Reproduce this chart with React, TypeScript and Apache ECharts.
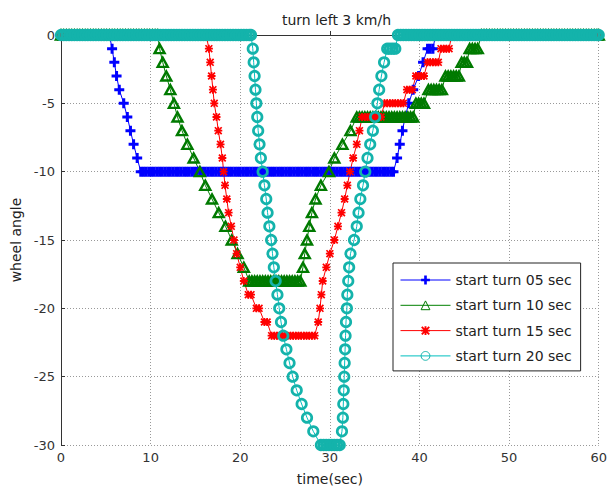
import React, { useEffect, useRef } from 'react';
import * as echarts from 'echarts';

const chartTitle = 'turn left 3 km/h';
const xAxisName = 'time(sec)';
const yAxisName = 'wheel angle';
const seriesNames = ['start turn 05 sec', 'start turn 10 sec', 'start turn 15 sec', 'start turn 20 sec'];

// [time (s), wheel angle (deg)]
const turn05: [number, number][] = [
  [0, 0], [1, 0], [2, 0], [3, 0], [4, 0], [5, 0], [5.4, 0],
  [5.7, -1], [5.95, -2], [6.2, -3], [6.5, -4], [7.0, -5], [7.4, -6], [7.75, -7], [8.1, -8], [8.5, -9],
  [8.9, -10], [9.2, -10], [9.5, -10], [9.8, -10], [10.1, -10], [10.4, -10], [10.7, -10], [11.0, -10], [11.3, -10], [11.6, -10],
  [11.9, -10], [12.2, -10], [12.5, -10], [12.8, -10], [13.1, -10], [13.4, -10], [13.7, -10], [14.0, -10], [14.3, -10], [14.6, -10],
  [14.9, -10], [15.2, -10], [15.5, -10], [15.8, -10], [16.1, -10], [16.4, -10], [16.7, -10], [17.0, -10], [17.3, -10], [17.6, -10],
  [17.9, -10], [18.2, -10], [18.5, -10], [18.8, -10], [19.1, -10], [19.4, -10], [19.7, -10], [20.0, -10], [20.3, -10], [20.6, -10],
  [20.9, -10], [21.2, -10], [21.5, -10], [21.8, -10], [22.1, -10], [22.4, -10], [22.7, -10], [23.0, -10], [23.3, -10], [23.6, -10],
  [23.9, -10], [24.2, -10], [24.5, -10], [24.8, -10], [25.1, -10], [25.4, -10], [25.7, -10], [26.0, -10], [26.3, -10], [26.6, -10],
  [26.9, -10], [27.2, -10], [27.5, -10], [27.8, -10], [28.1, -10], [28.4, -10], [28.7, -10], [29.0, -10], [29.3, -10], [29.6, -10],
  [29.9, -10], [30.2, -10], [30.5, -10], [30.8, -10], [31.1, -10], [31.4, -10], [31.7, -10], [32.0, -10], [32.3, -10], [32.6, -10],
  [32.9, -10], [33.2, -10], [33.5, -10], [33.8, -10], [34.1, -10], [34.4, -10], [34.7, -10], [35.0, -10], [35.3, -10], [35.6, -10],
  [35.9, -10], [36.2, -10], [36.5, -10], [36.8, -10], [37.1, -10],
  [37.5, -9], [37.8, -8], [38.1, -7], [38.4, -6], [38.8, -5], [39.3, -4], [39.9, -3], [40.4, -2],
  [40.9, -1], [41.2, -1], [41.5, -1], [41.8, 0],
  [43, 0], [44, 0], [45, 0], [46, 0], [47, 0], [48, 0], [49, 0], [50, 0], [51, 0], [52, 0], [53, 0], [54, 0], [55, 0],
  [56, 0], [57, 0], [58, 0], [59, 0], [60, 0],
];

const turn10: [number, number][] = [
  [0, 0], [0.3, 0], [0.6, 0], [0.9, 0], [1.2, 0], [1.5, 0], [1.8, 0], [2.1, 0], [2.4, 0], [2.7, 0], [3.0, 0], [3.3, 0],
  [3.6, 0], [3.9, 0], [4.2, 0], [4.5, 0], [4.8, 0], [5.1, 0], [5.4, 0], [5.7, 0], [6.0, 0], [6.3, 0], [6.6, 0], [6.9, 0],
  [7.2, 0], [7.5, 0], [7.8, 0], [8.1, 0], [8.4, 0], [8.7, 0], [9.0, 0], [9.3, 0], [9.6, 0], [9.9, 0], [10.2, 0], [10.5, 0], [10.8, 0],
  [11.0, -1], [11.35, -2], [11.75, -3], [12.2, -4], [12.6, -5], [13.0, -6], [13.5, -7], [14.1, -8], [14.8, -9], [15.5, -10],
  [16.1, -11], [16.85, -12], [17.6, -13], [18.35, -14], [19.05, -15], [19.7, -16], [20.4, -17],
  [21.0, -18], [21.3, -18], [21.6, -18], [21.9, -18], [22.2, -18], [22.5, -18], [22.8, -18], [23.1, -18], [23.4, -18], [23.7, -18],
  [24.0, -18], [24.3, -18], [24.6, -18], [24.9, -18], [25.2, -18], [25.5, -18], [25.8, -18], [26.1, -18], [26.4, -18], [26.7, -18],
  [27.0, -17], [27.2, -16], [27.45, -15], [27.7, -14], [28.0, -13], [28.4, -12], [29.0, -11], [29.9, -10], [30.5, -9], [31.4, -8], [32.3, -7],
  [33.0, -6], [33.3, -6], [33.6, -6], [33.9, -6], [34.2, -6], [34.5, -6], [34.8, -6], [35.1, -6], [35.4, -6], [35.7, -6], [36.0, -6],
  [36.3, -6], [36.6, -6], [36.9, -6], [37.2, -6], [37.5, -6], [37.8, -6], [38.1, -6], [38.4, -6], [38.7, -6], [39.0, -6], [39.3, -6],
  [39.6, -5], [39.9, -5], [40.2, -5], [40.5, -5],
  [41.0, -4], [41.3, -4], [41.6, -4], [41.9, -4], [42.2, -4], [42.5, -4],
  [42.9, -3], [43.2, -3], [43.5, -3], [43.8, -3], [44.1, -3], [44.4, -3],
  [44.7, -2], [45.0, -2], [45.3, -2],
  [45.6, -1], [45.9, -1], [46.2, -1], [46.5, -1],
  [46.9, 0], [47.2, 0], [47.5, 0], [47.8, 0], [48.1, 0], [48.4, 0], [48.7, 0], [49.0, 0], [49.3, 0], [49.6, 0], [49.9, 0],
  [50.2, 0], [50.5, 0], [50.8, 0], [51.1, 0], [51.4, 0], [51.7, 0], [52.0, 0], [52.3, 0], [52.6, 0], [52.9, 0], [53.2, 0],
  [53.5, 0], [53.8, 0], [54.1, 0], [54.4, 0], [54.7, 0], [55.0, 0], [55.3, 0], [55.6, 0], [55.9, 0], [56.2, 0], [56.5, 0],
  [56.8, 0], [57.1, 0], [57.4, 0], [57.7, 0], [58.0, 0], [58.3, 0], [58.6, 0], [58.9, 0], [59.2, 0], [59.5, 0], [59.8, 0], [60.0, 0],
];

const turn15: [number, number][] = [
  [0, 0], [1, 0], [2, 0], [3, 0], [4, 0], [5, 0], [6, 0], [7, 0], [8, 0], [9, 0], [10, 0], [11, 0], [12, 0], [13, 0],
  [14, 0], [15, 0], [16, 0], [16.2, 0],
  [16.5, -1], [16.65, -2], [16.8, -3], [16.95, -4], [17.1, -5], [17.35, -6], [17.55, -7], [17.8, -8], [18.0, -9],
  [18.15, -10], [18.3, -11], [18.5, -12], [18.7, -13], [19.0, -14], [19.3, -15], [19.6, -16], [20.0, -17], [20.4, -18],
  [20.9, -19], [21.2, -19], [21.8, -20], [22.1, -20], [22.7, -21], [23.0, -21],
  [23.5, -22], [23.8, -22], [24.1, -22], [24.4, -22], [24.7, -22], [25.0, -22], [25.3, -22], [25.6, -22], [25.9, -22],
  [26.2, -22], [26.5, -22], [26.8, -22], [27.1, -22], [27.4, -22], [27.7, -22], [28.0, -22], [28.3, -22],
  [28.7, -21], [28.9, -20], [29.05, -19], [29.2, -18], [29.6, -17], [30.0, -16], [30.5, -15], [30.9, -14], [31.3, -13],
  [31.65, -12], [31.95, -11], [32.25, -10], [32.6, -9], [33.0, -8], [33.3, -7],
  [33.6, -6], [33.9, -6], [34.2, -6], [34.5, -6], [34.8, -6], [35.1, -6], [35.4, -6], [35.7, -6],
  [36.1, -5], [36.4, -5], [36.7, -5], [37.0, -5], [37.3, -5], [37.6, -5], [37.9, -5], [38.2, -5],
  [38.6, -4], [38.9, -4], [39.2, -4],
  [39.6, -3], [39.9, -3], [40.2, -3], [40.5, -3],
  [40.9, -2], [41.2, -2], [41.5, -2], [41.8, -2], [42.1, -2],
  [42.4, -1], [42.7, -1], [43.0, -1], [43.3, -1],
  [43.6, 0], [45, 0], [46, 0], [47, 0], [48, 0], [49, 0], [50, 0], [51, 0], [52, 0], [53, 0], [54, 0], [55, 0],
  [56, 0], [57, 0], [58, 0], [59, 0], [60, 0],
];

const turn20: [number, number][] = [
  [0, 0], [0.3, 0], [0.6, 0], [0.9, 0], [1.2, 0], [1.5, 0], [1.8, 0], [2.1, 0], [2.4, 0], [2.7, 0], [3.0, 0], [3.3, 0],
  [3.6, 0], [3.9, 0], [4.2, 0], [4.5, 0], [4.8, 0], [5.1, 0], [5.4, 0], [5.7, 0], [6.0, 0], [6.3, 0], [6.6, 0], [6.9, 0],
  [7.2, 0], [7.5, 0], [7.8, 0], [8.1, 0], [8.4, 0], [8.7, 0], [9.0, 0], [9.3, 0], [9.6, 0], [9.9, 0], [10.2, 0], [10.5, 0],
  [10.8, 0], [11.1, 0], [11.4, 0], [11.7, 0], [12.0, 0], [12.3, 0], [12.6, 0], [12.9, 0], [13.2, 0], [13.5, 0], [13.8, 0],
  [14.1, 0], [14.4, 0], [14.7, 0], [15.0, 0], [15.3, 0], [15.6, 0], [15.9, 0], [16.2, 0], [16.5, 0], [16.8, 0], [17.1, 0],
  [17.4, 0], [17.7, 0], [18.0, 0], [18.3, 0], [18.6, 0], [18.9, 0], [19.2, 0], [19.5, 0], [19.8, 0], [20.1, 0], [20.4, 0],
  [20.7, 0], [21.0, 0], [21.2, 0],
  [21.4, -1], [21.5, -2], [21.6, -3], [21.7, -4], [21.8, -5], [21.9, -6], [22.0, -7], [22.15, -8], [22.3, -9], [22.5, -10],
  [22.7, -11], [22.9, -12], [23.05, -13], [23.25, -14], [23.45, -15], [23.6, -16], [23.75, -17], [23.95, -18], [24.15, -19],
  [24.35, -20], [24.55, -21], [24.8, -22], [25.15, -23], [25.5, -24], [25.85, -25], [26.3, -26], [26.85, -27], [27.45, -28], [28.15, -29],
  [29.0, -30], [29.3, -30], [29.6, -30], [29.9, -30], [30.2, -30], [30.5, -30], [30.8, -30], [31.1, -30],
  [31.35, -29], [31.45, -28], [31.5, -27], [31.55, -26], [31.6, -25], [31.65, -24], [31.7, -23], [31.75, -22], [31.8, -21],
  [31.9, -20], [31.95, -19], [32.05, -18], [32.15, -17], [32.3, -16], [32.7, -15], [33.0, -14], [33.2, -13], [33.4, -12],
  [33.7, -11], [33.95, -10], [34.2, -9], [34.5, -8], [34.8, -7], [35.05, -6], [35.3, -5], [35.5, -4], [35.75, -3], [36.05, -2],
  [36.4, -1], [36.7, -1], [37.0, -1], [37.3, -1],
  [37.6, 0], [37.9, 0], [38.2, 0], [38.5, 0], [38.8, 0], [39.1, 0], [39.4, 0], [39.7, 0], [40.0, 0], [40.3, 0], [40.6, 0],
  [40.9, 0], [41.2, 0], [41.5, 0], [41.8, 0], [42.1, 0], [42.4, 0], [42.7, 0], [43.0, 0], [43.3, 0], [43.6, 0], [43.9, 0],
  [44.2, 0], [44.5, 0], [44.8, 0], [45.1, 0], [45.4, 0], [45.7, 0], [46.0, 0], [46.3, 0], [46.6, 0], [46.9, 0], [47.2, 0],
  [47.5, 0], [47.8, 0], [48.1, 0], [48.4, 0], [48.7, 0], [49.0, 0], [49.3, 0], [49.6, 0], [49.9, 0], [50.2, 0], [50.5, 0],
  [50.8, 0], [51.1, 0], [51.4, 0], [51.7, 0], [52.0, 0], [52.3, 0], [52.6, 0], [52.9, 0], [53.2, 0], [53.5, 0], [53.8, 0],
  [54.1, 0], [54.4, 0], [54.7, 0], [55.0, 0], [55.3, 0], [55.6, 0], [55.9, 0], [56.2, 0], [56.5, 0], [56.8, 0], [57.1, 0],
  [57.4, 0], [57.7, 0], [58.0, 0], [58.3, 0], [58.6, 0], [58.9, 0], [59.2, 0], [59.5, 0], [59.8, 0], [60.0, 0],
];

const FONT = 'DejaVu Sans';
const PLUS = 'path://M3.5,0H6.5V3.5H10V6.5H6.5V10H3.5V6.5H0V3.5H3.5Z';
const STAR = 'path://M3.9,0H6.1V10H3.9Z M0,3.9H10V6.1H0Z M0,1.5L1.5,0L10,8.5L8.5,10Z M8.5,0L10,1.5L1.5,10L0,8.5Z';

export default function App() {
  const ref = useRef<HTMLDivElement>(null);
  useEffect(() => {
    if (!ref.current) return;
    const chart = echarts.init(ref.current, undefined, { renderer: 'svg' });
    const common = { type: 'line', clip: false, silent: true, emphasis: { disabled: true }, showAllSymbol: true };
    chart.setOption({
      animation: false,
      backgroundColor: '#ffffff',
      title: {
        text: chartTitle,
        left: 277,
        top: 8,
        textStyle: { fontFamily: FONT, fontSize: 14, fontWeight: 'normal', color: '#222' },
      },
      grid: { left: 61, top: 35, width: 542, height: 411 },
      legend: {
        orient: 'vertical',
        left: 393,
        top: 263,
        itemWidth: 50,
        itemHeight: 11,
        itemGap: 11.3,
        padding: [10, 9, 8, 7],
        borderColor: '#222',
        borderWidth: 1,
        backgroundColor: '#fff',
        selectedMode: false,
        lineStyle: { width: 1 },
        itemStyle: { borderWidth: 1 },
        textStyle: { fontFamily: FONT, fontSize: 14, color: '#222' },
        data: seriesNames,
      },
      xAxis: {
        type: 'value',
        min: 0,
        max: 60,
        interval: 10,
        name: xAxisName,
        nameLocation: 'middle',
        nameGap: 27,
        nameTextStyle: { fontFamily: FONT, fontSize: 14, color: '#222' },
        axisLine: { show: true, lineStyle: { color: '#333', width: 1 } },
        axisTick: { show: true, inside: true, length: 4, lineStyle: { color: '#333' } },
        axisLabel: { margin: 6, fontFamily: FONT, fontSize: 13, color: '#333' },
        splitLine: { show: true, lineStyle: { color: '#999', type: [1, 2], width: 1 } },
      },
      yAxis: {
        type: 'value',
        min: -30,
        max: 0,
        interval: 5,
        name: yAxisName,
        nameLocation: 'middle',
        nameGap: 38,
        nameTextStyle: { fontFamily: FONT, fontSize: 14, color: '#222' },
        axisLine: { show: true, lineStyle: { color: '#333', width: 1 } },
        axisTick: { show: true, inside: true, length: 4, lineStyle: { color: '#333' } },
        axisLabel: { margin: 6, fontFamily: FONT, fontSize: 13, color: '#333' },
        splitLine: { show: true, lineStyle: { color: '#999', type: [1, 2], width: 1 } },
      },
      series: [
        {
          ...common,
          name: seriesNames[0],
          data: turn05,
          symbol: PLUS,
          symbolSize: 10,
          lineStyle: { color: '#0000ff', width: 1 },
          itemStyle: { color: '#0000ff' },
        },
        {
          ...common,
          name: seriesNames[1],
          data: turn10,
          symbol: 'triangle',
          symbolSize: [10, 9],
          lineStyle: { color: '#008000', width: 1 },
          itemStyle: { color: 'transparent', borderColor: '#007a00', borderWidth: 2.4 },
        },
        {
          ...common,
          name: seriesNames[2],
          data: turn15,
          symbol: STAR,
          symbolSize: 8,
          lineStyle: { color: '#ff0000', width: 1 },
          itemStyle: { color: '#ff0000' },
        },
        {
          ...common,
          name: seriesNames[3],
          data: turn20,
          symbol: 'circle',
          symbolSize: 9.5,
          lineStyle: { color: '#00bfbf', width: 1 },
          itemStyle: { color: 'transparent', borderColor: '#14b3ab', borderWidth: 2.7 },
        },
      ],
    });
    return () => chart.dispose();
  }, []);
  return (
    <div
      ref={ref}
      style={{ position: 'fixed', left: 0, top: 0, width: 610, height: 491, background: '#fff' }}
    />
  );
}
